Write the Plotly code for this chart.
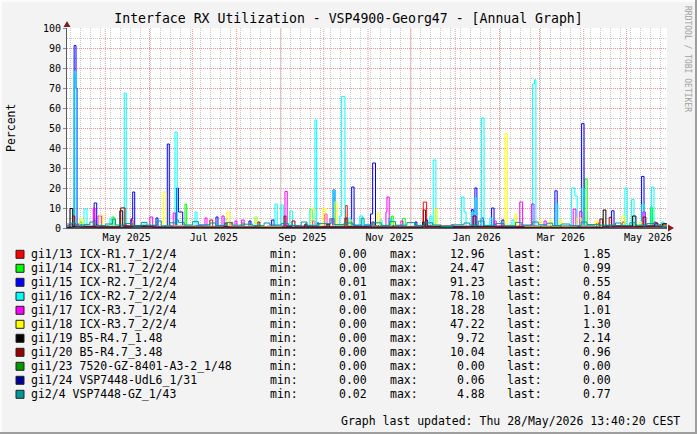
import plotly.graph_objects as go
import pandas as pd

# ---------------- data ----------------
START = pd.Timestamp("2025-04-04 05:00")        # first day of the annual RRA shown
RANGE_END = pd.Timestamp("2026-05-29 07:00")

NAMES = ["gi1/13 ICX-R1.7_1/2/4", "gi1/14 ICX-R1.7_2/2/4", "gi1/15 ICX-R2.7_1/2/4",
         "gi1/16 ICX-R2.7_2/2/4", "gi1/17 ICX-R3.7_1/2/4", "gi1/18 ICX-R3.7_2/2/4",
         "gi1/19 B5-R4.7_1.48", "gi1/20 B5-R4.7_3.48", "gi1/23 7520-GZ-8401-A3-2_1/48",
         "gi1/24 VSP7448-UdL6_1/31", "gi2/4 VSP7448-GZ_1/43"]
COLORS = ["#FF0000", "#00FF00", "#0000FF", "#00FFFF", "#FF00FF", "#FFFF00",
          "#000000", "#990000", "#009900", "#000099", "#009999"]
MINS = [0.00, 0.00, 0.01, 0.01, 0.00, 0.00, 0.00, 0.00, 0.00, 0.00, 0.02]
MAXS = [12.96, 24.47, 91.23, 78.10, 18.28, 47.22, 9.72, 10.04, 0.00, 0.06, 4.88]
LASTS = [1.85, 0.99, 0.55, 0.84, 1.01, 1.30, 2.14, 0.96, 0.00, 0.00, 0.77]

# (day since START, percent) change points, drawn as steps
S13 = [(0, 0.3), (20, 1.5), (22, 0.4), (44.8, 4), (46.2, 0.8), (60, 1.2), (62, 0.5), (100, 4), (102, 0.6),
       (114, 2.5), (115.5, 0.5), (140, 0.8), (160, 0.4), (195, 11.2), (196.2, 0.9), (215, 0.5),
       (249.4, 12.96), (251.8, 1.2), (270, 0.4), (300, 0.9), (330, 0.5), (371, 2.5), (372.5, 0.7),
       (389, 3), (390.5, 0.9), (405, 1.3), (415, 1.85), (420, 1.85)]
S14 = [(0, 0.2), (9, 3), (10.5, 0.5), (18.4, 4), (19.8, 0.6), (31.5, 5.5), (33, 0.7), (50, 1.1), (52, 0.3),
       (82.6, 12), (83.8, 1), (100, 0.4), (122.5, 2.5), (124, 0.5), (160, 0.8), (175, 0.3), (227.3, 6),
       (228.4, 1.2), (235, 4.8), (236.8, 0.8), (260, 0.3), (300, 0.6), (340, 0.4), (362.6, 24.47),
       (364.2, 1), (397, 2), (398.5, 0.6), (408.6, 10.3), (410, 1.1), (416, 0.99), (420, 0.99)]
S15 = [(0, 0.5), (5, 91.23), (6.3, 70), (7, 1.5), (12, 0.8), (19, 12.5), (20.8, 1), (30, 0.5), (44.8, 4.5),
       (46, 18), (47.4, 1), (55, 0.6), (62.3, 5), (63.7, 0.8), (70.2, 42), (71.6, 1.2), (76.8, 20), (78, 8),
       (81, 1), (95, 0.5), (104.3, 5.5), (105.7, 0.8), (127.4, 3.5), (128.8, 0.6), (143.3, 4), (145, 0.8),
       (160, 0.4), (175, 2.5), (176.4, 0.5), (186.2, 19), (187.6, 1), (199.3, 20.5), (201, 1),
       (212.5, 7), (214, 32.5), (216, 1.2), (230, 0.5), (243.6, 3), (245, 0.6), (251, 4), (252.5, 0.7),
       (269, 1.5), (270.5, 0.4), (283.3, 9.2), (284.4, 1), (285.6, 20), (287, 1), (290, 5), (291.5, 0.7),
       (297.3, 10), (299, 0.8), (304.5, 4), (306, 0.5), (320, 0.9), (341.6, 18.6), (343.2, 1),
       (360.3, 52.2), (362, 1.1), (370, 0.5), (381.3, 8.6), (383, 0.9), (402.3, 25.8), (404, 1),
       (417, 1.5), (418.5, 0.55), (420, 0.55)]
S16 = [(0, 0.6), (4.9, 78.1), (6.3, 1.2), (11.9, 9.5), (14, 0.8), (30, 4.5), (31.5, 0.9), (40.1, 67.5),
       (41.5, 1), (53.2, 2), (55.3, 0.5), (75.6, 48), (77.2, 1.2), (89.6, 8), (91, 0.9), (110, 4.5),
       (111.5, 0.7), (131.6, 5.5), (133, 0.6), (145.6, 12), (147.2, 0.9), (149.8, 11.5), (151.4, 1),
       (156, 8.5), (158, 0.8), (170, 9.2), (172, 0.9), (173.6, 54), (174.8, 1), (186, 18.8), (187.6, 1),
       (191, 6), (192.3, 65.8), (194.6, 1.5), (197, 5), (198.5, 0.8), (205, 6), (207, 0.9), (219, 4),
       (220.5, 0.6), (225, 5), (226.5, 0.8), (254, 6), (255.5, 1), (256.4, 34), (258.3, 0.9),
       (276.3, 15.5), (278, 8), (279.4, 0.8), (283.3, 8), (284.4, 1), (285.6, 15), (287, 1), (290.3, 55),
       (292, 1.2), (296, 5), (297.5, 0.6), (311.5, 4), (313, 0.6), (326, 72), (327.3, 74.1), (328.3, 1),
       (342.3, 12), (343.7, 0.9), (353.3, 20), (355.6, 16), (357.2, 1), (360.5, 20), (362, 1),
       (390.6, 20), (392.2, 1), (395.3, 14.2), (397, 0.9), (402.5, 12), (404, 1), (409.3, 20.5),
       (411, 1), (416.3, 3), (418, 0.84), (420, 0.84)]
S17 = [(0, 2), (1.5, 0.5), (7, 2), (8.5, 0.6), (18.4, 10), (19.6, 1), (21.7, 6), (24.3, 0.8), (40, 1.5),
       (42, 0.4), (58, 5.5), (60, 0.7), (74.4, 7.5), (76, 1), (96.6, 5), (98, 0.7), (108.5, 6), (110, 0.6),
       (117.6, 3.5), (119, 0.5), (122.3, 4), (124, 0.6), (140, 0.9), (152.6, 18.28), (154.2, 1),
       (172, 3.5), (173.5, 0.6), (180.6, 7), (182, 0.8), (184, 4.6), (186, 0.7), (200, 0.4), (223.3, 8),
       (224, 15.5), (225.6, 1), (233.8, 3.5), (235.2, 0.6), (260, 0.9), (284.2, 6), (286.3, 0.8),
       (299, 3.5), (300.5, 0.6), (317, 13), (319, 0.9), (325.3, 12), (327, 0.8), (334, 3.5), (335.5, 0.6),
       (354.4, 9.4), (356.3, 0.8), (359, 8.3), (360.5, 0.8), (380, 0.5), (403.2, 8), (405, 1), (411, 3),
       (412.5, 0.7), (416, 1.01), (420, 1.01)]
S18 = [(0, 0.4), (9, 4.6), (11.2, 0.8), (23, 6.5), (25, 0.9), (45, 1.3), (47, 0.4), (67.4, 18), (69.3, 1),
       (90, 0.6), (111.8, 8), (114, 0.9), (131.6, 5.5), (133, 0.7), (150, 0.5), (171.3, 10), (173, 1),
       (179.2, 9.7), (181.3, 1), (187.6, 13), (189, 1), (198, 4), (199.5, 0.7), (217.2, 7.5), (219, 0.9),
       (227.5, 3), (229.6, 0.6), (257.6, 9.2), (259.2, 0.9), (280, 0.4), (306.6, 47.22), (308.3, 1),
       (313.6, 7), (314.8, 0.8), (331, 3.5), (332.5, 0.7), (338, 4), (339.5, 0.7), (345, 4), (346.5, 0.8),
       (357, 5), (360, 0.9), (370, 3.5), (371.5, 0.8), (388.5, 6), (390.6, 1), (401, 3), (402.5, 0.8),
       (416, 1.3), (420, 1.3)]
S19 = [(0, 0.3), (2.1, 9.72), (4, 0.8), (20, 0.5), (37, 8.6), (39, 0.9), (60, 0.4), (110, 0.8), (112, 0.3),
       (166.6, 2), (168, 0.4), (182, 2), (183.5, 0.4), (249, 3), (250.5, 0.6), (300, 0.3), (375.4, 9),
       (377.3, 1), (396, 6), (398.3, 0.9), (411.6, 2.5), (413.7, 0.8), (417, 2.14), (420, 2.14)]
S20 = [(0, 0.4), (4, 6), (5.4, 0.8), (20, 0.5), (37.6, 10.04), (40.6, 1), (60, 0.4), (110.6, 2.5),
       (112, 0.5), (133.7, 3), (135, 0.4), (152, 6), (153.3, 0.8), (157.5, 3.5), (159.6, 0.6), (194.6, 5),
       (196, 0.7), (213.5, 3), (215, 0.5), (249.4, 9), (251, 0.8), (284.4, 6), (286.3, 0.8), (320, 0.4),
       (373.1, 4.5), (375, 0.7), (379.6, 5.3), (381.3, 0.8), (403.4, 5.5), (405.3, 0.8), (416, 0.96),
       (420, 0.96)]
S23 = [(0, 0.0), (420, 0.0)]
S24 = [(0, 0.02), (150, 0.06), (152, 0.01), (300, 0.0), (420, 0.0)]
S2_4 = [(0, 1.2), (3, 2.5), (6, 1), (12, 1.8), (16, 3), (19, 1.2), (27, 2), (32, 4.5), (34, 1.5), (40, 2.2),
        (46, 1), (52, 2.8), (56, 1.4), (63, 3.5), (66, 1.1), (72, 2.6), (76, 4), (78, 2.8), (82, 1.5),
        (88, 3.2), (92, 1.6), (100, 2.5), (104, 1.2), (112, 2.8), (116, 1.4), (124, 1.9), (130, 1.2),
        (138, 2.5), (142, 1.5), (150, 2.2), (155, 1.2), (164, 3), (168, 1.3), (176, 2.2), (185, 4.7),
        (187, 1.7), (194, 2.5), (200, 1.5), (206, 4.88), (208, 1.6), (214, 2.6), (220, 1.3), (226, 3.2),
        (230, 1.4), (238, 2.7), (244, 1.2), (250, 2.6), (256, 1.5), (262, 0.8), (270, 1.6), (278, 2.5),
        (282, 1.4), (288, 3.5), (292, 1.3), (300, 2.2), (306, 1.1), (314, 2.8), (318, 1.5), (326, 3),
        (330, 1.6), (336, 2.4), (340, 1.2), (346, 2), (352, 1.1), (360, 3), (364, 1.7), (372, 1.4),
        (384, 2.5), (388, 1.3), (394, 2.6), (398, 1.4), (406, 2.2), (412, 1.1), (417, 0.77), (420, 0.77)]
SERIES = [S13, S14, S15, S16, S17, S18, S19, S20, S23, S24, S2_4]

LABEL_DATES = ["2025-05-16", "2025-07-16", "2025-09-16", "2025-11-16", "2026-01-16", "2026-03-16", "2026-05-16"]
LABEL_TEXT = ["May 2025", "Jul 2025", "Sep 2025", "Nov 2025", "Jan 2026", "Mar 2026", "May 2026"]

TITLE = "Interface RX Utilization - VSP4900-Georg47 - [Annual Graph]"
FOOTER = "Graph last updated: Thu 28/May/2026 13:40:20 CEST"

# ---------------- layout helpers ----------------
W, H = 697, 434
PL, PR, PT, PB = 67, 667, 28, 228
MONO = "DejaVu Sans Mono"


def px(x):
    return (x - PL) / (PR - PL)


def py(y):
    return (PB - y) / (PB - PT)


fig = go.Figure()
for s, name, col in zip(SERIES, NAMES, COLORS):
    fig.add_trace(go.Scatter(
        x=[START + pd.Timedelta(days=d) for d, _ in s],
        y=[v for _, v in s],
        mode="lines", line=dict(color=col, width=1, shape="hv"),
        name=name, hoverinfo="skip"))

GRID = "#C8C8C8"
MGRID = "#E99494"

shapes = []
# month major grid (red dotted)
for m in pd.date_range("2025-05-01", "2026-05-01", freq="MS"):
    shapes.append(dict(type="line", xref="x", yref="paper", x0=m, x1=m, y0=0, y1=1,
                       line=dict(color=MGRID, width=1, dash="1px,1px"), layer="between"))
# 3D frame
shapes += [
    dict(type="rect", xref="paper", yref="paper", x0=px(0), x1=px(W), y0=py(0), y1=py(2),
         fillcolor="#FCFCFC", line=dict(width=0)),
    dict(type="rect", xref="paper", yref="paper", x0=px(0), x1=px(2), y0=py(0), y1=py(H),
         fillcolor="#FCFCFC", line=dict(width=0)),
    dict(type="rect", xref="paper", yref="paper", x0=px(0), x1=px(W), y0=py(H - 2), y1=py(H),
         fillcolor="#9E9E9E", line=dict(width=0)),
    dict(type="rect", xref="paper", yref="paper", x0=px(W - 2), x1=px(W), y0=py(0), y1=py(H),
         fillcolor="#9E9E9E", line=dict(width=0)),
]
# axis arrows
ARROW = "#7F1F1F"
shapes.append(dict(type="path", xref="paper", yref="paper",
                   path=f"M{px(67)},{py(21)} L{px(70.5)},{py(27)} L{px(63.5)},{py(27)} Z",
                   fillcolor=ARROW, line=dict(width=0)))
shapes.append(dict(type="path", xref="paper", yref="paper",
                   path=f"M{px(674)},{py(228)} L{px(668)},{py(224.5)} L{px(668)},{py(231.5)} Z",
                   fillcolor=ARROW, line=dict(width=0)))

annotations = []
# y title
annotations.append(dict(text="Percent", x=px(11), y=py(128), xref="paper", yref="paper",
                        xanchor="center", yanchor="middle",
                        textangle=-90, showarrow=False, font=dict(family=MONO, size=11.5, color="#000")))
# watermark
annotations.append(dict(text="RRDTOOL / TOBI OETIKER", x=px(688), y=py(59), xref="paper", yref="paper",
                        xanchor="center", yanchor="middle",
                        textangle=90, showarrow=False, font=dict(family=MONO, size=8, color="#A0A0A0")))
# legend
ROW0, DY = 254.3, 14
for i, (name, col, mn, mx, la) in enumerate(zip(NAMES, COLORS, MINS, MAXS, LASTS)):
    yc = ROW0 + DY * i
    shapes.append(dict(type="rect", xref="paper", yref="paper", x0=px(16), x1=px(24),
                       y0=py(yc - 4), y1=py(yc + 4), fillcolor=col, line=dict(color="#222", width=1)))
    f = dict(family=MONO, size=11.5, color="#000")
    for txt, x, anc in [(name, 30, "left"), ("min:", 269.3, "left"), (f"{mn:.2f}", 368.3, "right"),
                        ("max:", 389, "left"), (f"{mx:.2f}", 486, "right"),
                        ("last:", 505.7, "left"), (f"{la:.2f}", 612.3, "right")]:
        annotations.append(dict(text=txt, x=px(x), y=py(yc), xref="paper", yref="paper", xanchor=anc,
                                yanchor="middle", showarrow=False, borderpad=0, font=f))
annotations.append(dict(text=FOOTER, x=px(681), y=py(421), xref="paper", yref="paper", xanchor="right",
                        yanchor="middle", showarrow=False, borderpad=0,
                        font=dict(family=MONO, size=11.5, color="#000")))

fig.update_layout(
    width=W, height=H, margin=dict(l=PL, r=W - PR, t=PT, b=H - PB, pad=0),
    paper_bgcolor="#F3F3F3", plot_bgcolor="#FFFFFF", showlegend=False,
    font=dict(family=MONO, size=10, color="#000"),
    title=dict(text=TITLE, x=0.5, xref="container", xanchor="center", y=1 - 18 / H, yref="container",
               yanchor="middle", font=dict(family=MONO, size=13.2, color="#000")),
    xaxis=dict(type="date", range=[START, RANGE_END], tickmode="array", tickvals=LABEL_DATES,
               ticktext=LABEL_TEXT, showgrid=False, zeroline=False, showline=True, linecolor="#5a5a5a",
               linewidth=1, ticks="", tickfont=dict(family=MONO, size=10),
               minor=dict(tickmode="linear", tick0="2025-04-07", dtick=7 * 86400000, showgrid=True,
                          gridcolor=GRID, griddash="1px,1px", gridwidth=1, ticks="")),
    yaxis=dict(range=[0, 100], tickmode="linear", tick0=0, dtick=10, showgrid=True, gridcolor=MGRID,
               griddash="1px,1px", gridwidth=1, zeroline=False, showline=True, linecolor="#5a5a5a",
               linewidth=1, ticks="outside", ticklen=3, tickcolor="#8a8a8a",
               tickfont=dict(family=MONO, size=10),
               minor=dict(tickmode="linear", tick0=0, dtick=5, showgrid=True, gridcolor=GRID,
                          griddash="1px,1px", gridwidth=1, ticks="")),
    shapes=shapes, annotations=annotations,
)

fig.write_html("out.html")
